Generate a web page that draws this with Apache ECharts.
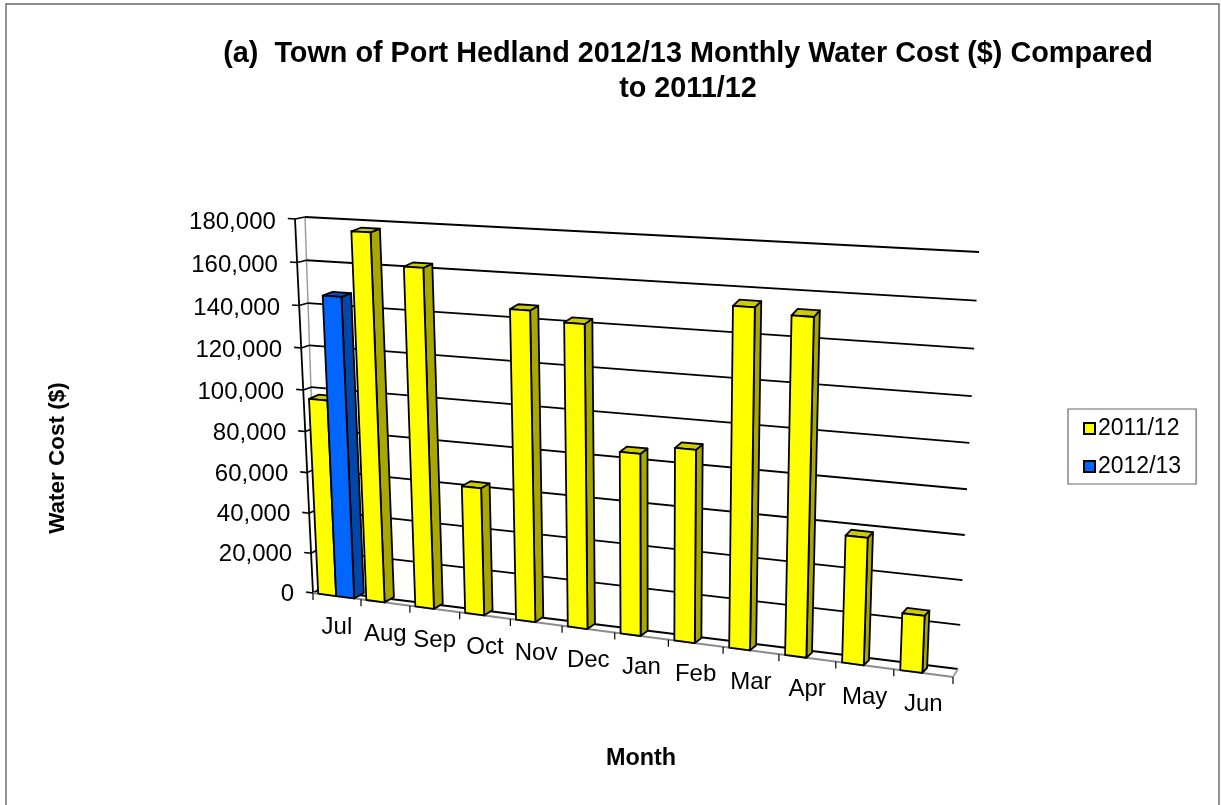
<!DOCTYPE html>
<html>
<head>
<meta charset="utf-8">
<style>html,body{margin:0;padding:0;background:#fff}#c{width:1221px;height:805px}</style>
<script src="https://cdn.jsdelivr.net/npm/echarts@6/dist/echarts.min.js"></script>
</head>
<body>
<div id="c"></div>
<script>
var months = ['Jul','Aug','Sep','Oct','Nov','Dec','Jan','Feb','Mar','Apr','May','Jun'];
var cost1112 = [96000,176000,161500,61500,145700,141500,85200,89500,154300,152000,58000,26000];
var cost1213 = [145500,null,null,null,null,null,null,null,null,null,null,null];
var yTicks = [0,20000,40000,60000,80000,100000,120000,140000,160000,180000];

// perspective planes: corners in order (u0,v0),(u1,v0),(u1,v1),(u0,v1)
var frontQuad = [[313,593],[953,677],[971,260],[295,219]];
var wallQuad = [[318,590],[958,669],[979,252],[305,217]];
// bar depth as a screen offset at the same four corners
var depthOffsets = [[10,-5.5],[4.5,-5],[5,-8],[10,-3]];

function homography(q){
  var x0=q[0][0],y0=q[0][1],x1=q[1][0],y1=q[1][1],x2=q[2][0],y2=q[2][1],x3=q[3][0],y3=q[3][1];
  var dx1=x1-x2,dx2=x3-x2,sx=x0-x1+x2-x3,dy1=y1-y2,dy2=y3-y2,sy=y0-y1+y2-y3;
  var den=dx1*dy2-dx2*dy1,g=(sx*dy2-dx2*sy)/den,h=(dx1*sy-sx*dy1)/den;
  var a=x1-x0+g*x1,b=x3-x0+h*x3,c=x0,d=y1-y0+g*y1,e=y3-y0+h*y3,f=y0;
  return function(u,v){var w=g*u+h*v+1;return [(a*u+b*v+c)/w,(d*u+e*v+f)/w];};
}
var front=homography(frontQuad),wall=homography(wallQuad);
function barBack(u,v){
  var p=front(u,v),o=depthOffsets,r=[0,0];
  for(var k=0;k<2;k++){
    r[k]=p[k]+(1-u)*(1-v)*o[0][k]+u*(1-v)*o[1][k]+u*v*o[2][k]+(1-u)*v*o[3][k];
  }
  return r;
}

function uv(params,pt){
  var s=params.coordSys;
  return [(pt[0]-s.x)/s.width,(s.y+s.height-pt[1])/s.height];
}
function poly(pts,fill,z2){
  return {type:'polygon',z2:z2,shape:{points:pts},style:{fill:fill,stroke:'#000',lineWidth:1.8,lineJoin:'round'}};
}
function seg(a,b,color,w,z2){
  return {type:'line',z2:z2||1,shape:{x1:a[0],y1:a[1],x2:b[0],y2:b[1]},style:{stroke:color,lineWidth:w}};
}
function barRenderer(startFrac,endFrac,faceFill,sideFill,topFill,order){
  return function(params,api){
    var val=api.value(1);
    if(val==null||isNaN(val)) return null;
    var i=api.value(0);
    var slot=api.size([1,0])[0];
    var base=api.coord([i,0]),top=api.coord([i,val]);
    var x0=base[0]-slot/2+slot*startFrac,x1=base[0]-slot/2+slot*endFrac;
    var b0=uv(params,[x0,base[1]]),b1=uv(params,[x1,base[1]]);
    var t0=uv(params,[x0,top[1]]),t1=uv(params,[x1,top[1]]);
    var z=10+i*10+order;
    return {type:'group',children:[
      poly([front(b1[0],b1[1]),barBack(b1[0],b1[1]),barBack(t1[0],t1[1]),front(t1[0],t1[1])],sideFill,z),
      poly([front(t0[0],t0[1]),front(t1[0],t1[1]),barBack(t1[0],t1[1]),barBack(t0[0],t0[1])],topFill,z),
      poly([front(b0[0],b0[1]),front(b1[0],b1[1]),front(t1[0],t1[1]),front(t0[0],t0[1])],faceFill,z+1)
    ]};
  };
}
function gridRenderer(params,api){
  var p=uv(params,api.coord([0,api.value(0)])),v=p[1];
  var t=front(-0.012,v);
  var els=[
    seg(wall(0,v),wall(1,v),'#000',1.8,1),
    seg(t,front(0,v),'#000',1.6,2),
    seg(front(0,v),wall(0,v),'#000',1.6,2),
    {type:'text',z2:3,style:{text:api.value(0).toLocaleString('en-US'),x:t[0]-12,y:t[1]+2+v*1.5,
      align:'right',verticalAlign:'middle',fill:'#000',font:'24px "Liberation Sans"'}}
  ];
  if(v===0){
    els.push(seg(front(0,0),front(1,0),'#8c8c8c',2,2));
    els.push(seg(front(1,0),wall(1,0),'#a0a0a0',2,2));
  }
  return {type:'group',children:els};
}
function frameRenderer(params,api){
  return {type:'group',children:[
    seg(wall(0,0),wall(0,1),'#999',1.4,1),
    seg(front(0,0),front(0,1),'#000',1.8,2)
  ]};
}
function catRenderer(params,api){
  var i=api.value(0),slot=api.size([1,0])[0],c=api.coord([i,0]);
  var l=uv(params,[c[0]-slot/2,c[1]]),r=uv(params,[c[0]+slot/2,c[1]]),m=uv(params,c);
  var pos=front(m[0],0),els=[];
  function tick(u){var a=front(u,0);return seg(a,[a[0],a[1]+7],'#000',1.2,2);}
  els.push(tick(l[0]));
  if(i===months.length-1) els.push(tick(r[0]));
  els.push({type:'text',z2:3,style:{text:months[i],x:pos[0],y:pos[1]+31.5,align:'center',verticalAlign:'middle',
    fill:'#000',font:'24px "Liberation Sans"'}});
  return {type:'group',children:els};
}

var chart=echarts.init(document.getElementById('c'),null,{renderer:'canvas'});
var idx=months.map(function(_,i){return i;});
chart.setOption({
  animation:false,
  backgroundColor:'#fff',
  title:{text:'(a)  Town of Port Hedland 2012/13 Monthly Water Cost ($) Compared\nto 2011/12',left:683,top:32,textAlign:'center',
    textStyle:{fontFamily:'Liberation Sans',fontWeight:'bold',fontSize:28.8,lineHeight:35,color:'#000'}},
  legend:{data:['2011/12','2012/13'],left:1068,top:409,orient:'vertical',icon:'rect',itemWidth:11,itemHeight:11,itemGap:15,
    padding:[8,15,6,15],borderColor:'#666',borderWidth:1.2,backgroundColor:'#fff',selectedMode:false,
    textStyle:{fontFamily:'Liberation Sans',fontSize:23,color:'#000',padding:[0,0,0,-2]},
    itemStyle:{borderColor:'#000',borderWidth:2}},
  grid:{left:100,top:100,width:800,height:500,show:false},
  xAxis:{type:'category',data:months,show:false},
  yAxis:{type:'value',min:0,max:180000,interval:20000,show:false},
  graphic:[
    {type:'rect',silent:true,z:0,shape:{x:6,y:4,width:1213,height:810},style:{fill:'none',stroke:'#666',lineWidth:1.4}},
    {type:'text',silent:true,style:{text:'Water Cost ($)',x:0,y:0,align:'center',verticalAlign:'middle',fill:'#000',font:'bold 22.5px "Liberation Sans"'},rotation:Math.PI/2,x:58,y:458},
    {type:'text',silent:true,style:{text:'Month',x:641,y:759,align:'center',verticalAlign:'middle',fill:'#000',font:'bold 23.4px "Liberation Sans"'}}
  ],
  series:[
    {type:'custom',name:'frame',silent:true,clip:false,data:[[0]],encode:{x:0},renderItem:frameRenderer},
    {type:'custom',name:'grid',silent:true,clip:false,data:yTicks.map(function(t){return [t];}),encode:{y:0},renderItem:gridRenderer},
    {type:'custom',name:'cats',silent:true,clip:false,data:idx.map(function(i){return [i];}),encode:{x:0},renderItem:catRenderer},
    {type:'custom',name:'2011/12',clip:false,itemStyle:{color:'#ffff00'},encode:{x:0,y:1},
      data:cost1112.map(function(v,i){return [i,v];}),
      renderItem:barRenderer(0.11,0.485,'#ffff00','#a8a800','#cccc00',0)},
    {type:'custom',name:'2012/13',clip:false,itemStyle:{color:'#0066ff'},encode:{x:0,y:1},
      data:cost1213.map(function(v,i){return [i,v];}),
      renderItem:barRenderer(0.485,0.86,'#0066ff','#0047ab','#0052cc',5)}
  ]
});
</script>
</body>
</html>
